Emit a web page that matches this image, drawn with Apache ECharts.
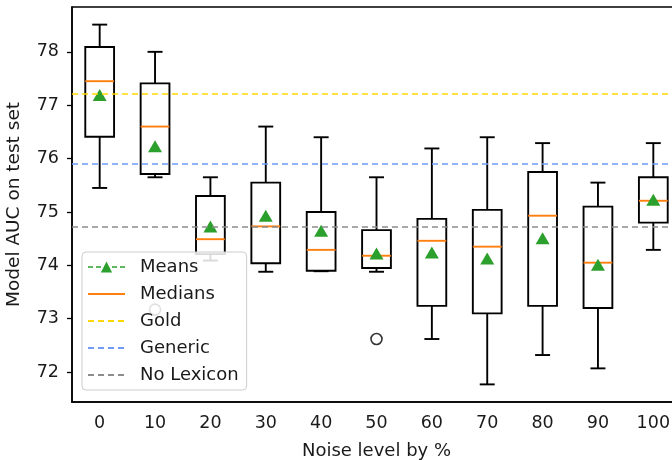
<!DOCTYPE html>
<html>
<head>
<meta charset="utf-8">
<script src="https://cdn.jsdelivr.net/npm/echarts@6/dist/echarts.min.js"></script>
<style>
  html, body { margin: 0; padding: 0; background: #fff; overflow: hidden; }
  #chart { width: 681px; height: 460px; }
</style>
</head>
<body>
<div id="chart"></div>
<script>
const categories = ['0', '10', '20', '30', '40', '50', '60', '70', '80', '90', '100']
const whiskerLow = [75.45, 75.65, 74.09, 73.88, 73.89, 73.88, 72.62, 71.77, 72.32, 72.07, 74.29]
const q1 = [76.41, 75.71, 74.21, 74.04, 73.9, 73.95, 73.24, 73.1, 73.24, 73.2, 74.8]
const medians = [77.45, 76.6, 74.49, 74.73, 74.29, 74.18, 74.46, 74.35, 74.93, 74.05, 75.21]
const q3 = [78.09, 77.41, 75.3, 75.55, 75.0, 74.66, 74.87, 75.04, 75.75, 75.1, 75.65]
const whiskerHigh = [78.51, 78.0, 75.65, 76.6, 76.4, 75.65, 76.19, 76.4, 76.29, 75.55, 76.29]
const means = [77.19, 76.23, 74.73, 74.93, 74.65, 74.22, 74.24, 74.13, 74.51, 74.01, 75.23]
const outlierCats = ['10', '50']
const outlierValues = [73.17, 72.62]
const goldLevel = 77.21
const genericLevel = 75.91
const noLexiconLevel = 74.73
const yTicks = [72, 73, 74, 75, 76, 77, 78]

const chart = echarts.init(document.getElementById('chart'))
const font = 'DejaVu Sans'
const ink = '#1a1a1a'

function refLine(name, level, color) {
  return {
    name,
    type: 'line',
    data: [],
    symbol: 'none',
    color,
    lineStyle: { color, type: [6, 4], width: 1.6 },
    markLine: {
      silent: true,
      symbol: ['none', 'none'],
      label: { show: false },
      lineStyle: { color, type: [6, 4], width: 1.6 },
      data: [{ yAxis: level }]
    },
    z: 1
  }
}

function renderBox(params, api) {
  const i = api.value(0)
  const half = api.size([1, 0])[0] * 0.26
  const cap = half * 0.52
  const lo = api.coord([i, api.value(1)])
  const a = api.coord([i, api.value(2)])
  const m = api.coord([i, api.value(3)])
  const b = api.coord([i, api.value(4)])
  const hi = api.coord([i, api.value(5)])
  const x = lo[0]
  const stroke = { stroke: '#000', lineWidth: 1.9, fill: null }
  return {
    type: 'group',
    children: [
      { type: 'rect', shape: { x: x - half, y: b[1], width: half * 2, height: a[1] - b[1] }, style: stroke },
      { type: 'line', shape: { x1: x, y1: b[1], x2: x, y2: hi[1] }, style: stroke },
      { type: 'line', shape: { x1: x, y1: a[1], x2: x, y2: lo[1] }, style: stroke },
      { type: 'line', shape: { x1: x - cap, y1: hi[1], x2: x + cap, y2: hi[1] }, style: stroke },
      { type: 'line', shape: { x1: x - cap, y1: lo[1], x2: x + cap, y2: lo[1] }, style: stroke },
      { type: 'line', shape: { x1: x - half, y1: m[1], x2: x + half, y2: m[1] }, style: { stroke: '#ff7f0e', lineWidth: 1.9 } }
    ]
  }
}

const hideDot = { opacity: 0 }

chart.setOption({
  animation: false,
  grid: {
    left: 72, top: 7, right: 0, height: 395,
    outerBoundsMode: 'none', containLabel: false,
    show: true, borderColor: '#000', borderWidth: 1.5
  },
  legend: {
    orient: 'vertical',
    left: 82,
    top: 252,
    itemWidth: 37,
    itemHeight: 14,
    itemGap: 9,
    padding: [6, 8, 6, 5],
    backgroundColor: 'rgba(255,255,255,0.85)',
    borderColor: '#ccc',
    borderWidth: 1,
    borderRadius: 4,
    textStyle: { fontFamily: font, fontSize: 18, color: ink, padding: [0, 0, 0, 10] },
    data: [
      { name: 'Means', lineStyle: { color: '#2ca02c', type: [5, 3], width: 1.5 } },
      { name: 'Medians', itemStyle: hideDot },
      { name: 'Gold', itemStyle: hideDot },
      { name: 'Generic', itemStyle: hideDot },
      { name: 'No Lexicon', itemStyle: hideDot }
    ]
  },
  xAxis: {
    type: 'category',
    data: categories,
    name: 'Noise level by %',
    nameLocation: 'middle',
    nameGap: 40,
    nameTextStyle: { fontFamily: font, fontSize: 18, color: ink },
    axisLine: { lineStyle: { color: '#000', width: 1.5 } },
    axisTick: { alignWithLabel: true, length: 5, lineStyle: { color: '#000', width: 1.3 } },
    axisLabel: { fontFamily: font, fontSize: 17.5, color: ink, margin: 12 },
    splitLine: { show: false }
  },
  yAxis: {
    type: 'value',
    min: 71.44,
    max: 78.84,
    name: 'Model AUC on test set',
    nameLocation: 'middle',
    nameGap: 48,
    nameTextStyle: { fontFamily: font, fontSize: 18.5, color: ink },
    axisLine: { show: true, lineStyle: { color: '#000', width: 1.5 } },
    axisTick: { show: true, length: 5, customValues: yTicks, lineStyle: { color: '#000', width: 1.3 } },
    axisLabel: { fontFamily: font, fontSize: 17.5, color: ink, margin: 13, customValues: yTicks },
    splitLine: { show: false }
  },
  series: [
    refLine('Gold', goldLevel, '#ffd700'),
    refLine('Generic', genericLevel, '#6f9bf5'),
    refLine('No Lexicon', noLexiconLevel, '#8c8c8c'),
    {
      name: 'Boxes',
      type: 'custom',
      renderItem: renderBox,
      encode: { x: 0, y: [1, 2, 3, 4, 5] },
      data: categories.map((c, i) => [i, whiskerLow[i], q1[i], medians[i], q3[i], whiskerHigh[i]]),
      z: 2
    },
    {
      name: 'Medians',
      type: 'line',
      data: [],
      symbol: 'none',
      color: '#ff7f0e',
      lineStyle: { color: '#ff7f0e', width: 1.8 }
    },
    {
      name: 'Outliers',
      type: 'scatter',
      data: outlierCats.map((c, i) => [c, outlierValues[i]]),
      symbol: 'circle',
      symbolSize: 11,
      itemStyle: { color: '#fff', borderColor: '#000', borderWidth: 1.6 },
      z: 3
    },
    {
      name: 'Means',
      type: 'line',
      data: means,
      symbol: 'triangle',
      symbolSize: [14, 12],
      showAllSymbol: true,
      color: '#2ca02c',
      itemStyle: { color: '#2ca02c' },
      lineStyle: { width: 0 },
      z: 4
    }
  ]
})
</script>
</body>
</html>
